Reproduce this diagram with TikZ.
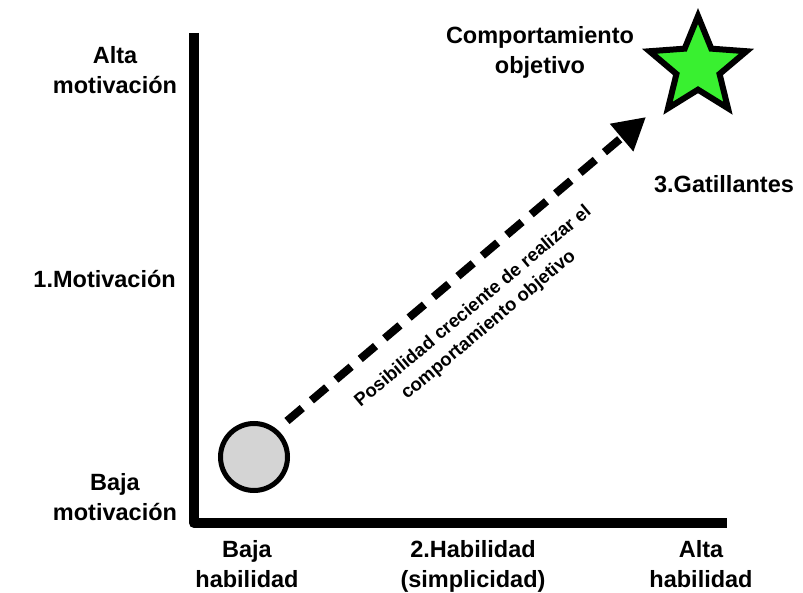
\documentclass[tikz,border=0pt]{standalone}
\usepackage{fontspec}
\setmainfont{Liberation Sans}
\usetikzlibrary{shapes.geometric,arrows.meta}
\definecolor{stargreen}{RGB}{57,240,48}
\definecolor{dotgray}{RGB}{212,212,212}
\tikzset{
  lbl/.style={font=\fontsize{23.5}{30}\selectfont\bfseries, align=center, inner sep=0pt, text=black},
  axisline/.style={line width=10pt, line join=round},
  arrowline/.style={line width=8pt, dash pattern=on 20pt off 12pt, -{Triangle[length=32pt,width=34pt]}},
  arrowtxt/.style={font=\fontsize{18.5}{24}\selectfont\bfseries, align=center, inner sep=0pt, rotate=40},
}
\begin{document}
\begin{tikzpicture}[x=1pt,y=-1pt]
\useasboundingbox[fill=white] (0,0) rectangle (803,593);
% axes
\coordinate (ytop) at (194,33);
\coordinate (orig) at (194,523);
\coordinate (xend) at (727,523);
\draw[axisline] (ytop) -- (orig) -- (xend);
% y labels
\node[lbl, anchor=north] (altamot) at (115,46) {Alta\\motivación};
\node[lbl, anchor=base east] (mot) at (176,288) {1.Motivación};
\node[lbl, anchor=north] (bajamot) at (115,473) {Baja\\motivación};
% x labels
\node[lbl, anchor=north] (bajahab) at (247,540) {Baja\\habilidad};
\node[lbl, anchor=north] (hab) at (473,540) {2.Habilidad\\(simplicidad)};
\node[lbl, anchor=north] (altahab) at (701,540) {Alta\\habilidad};
% target
\node[lbl, anchor=north] (comp) at (540,26) {Comportamiento\\objetivo};
\node[star, star points=5, star point ratio=2.25, minimum size=102pt, inner sep=0pt,
      draw=black, line width=6pt, fill=stargreen] (star) at (698,67) {};
\node[lbl, anchor=base] (gat) at (724,193) {3.Gatillantes};
% start
\node[circle, minimum size=67pt, inner sep=0pt, draw=black, line width=5pt, fill=dotgray] (circ) at (254,457) {};
% arrow
\coordinate (a0) at (287,421);
\coordinate (a1) at (646,117);
\draw[arrowline] (a0) -- (a1);
\node[arrowtxt] (atxt) at (481,316) {Posibilidad creciente de realizar el\\comportamiento objetivo};
\end{tikzpicture}
\end{document}
